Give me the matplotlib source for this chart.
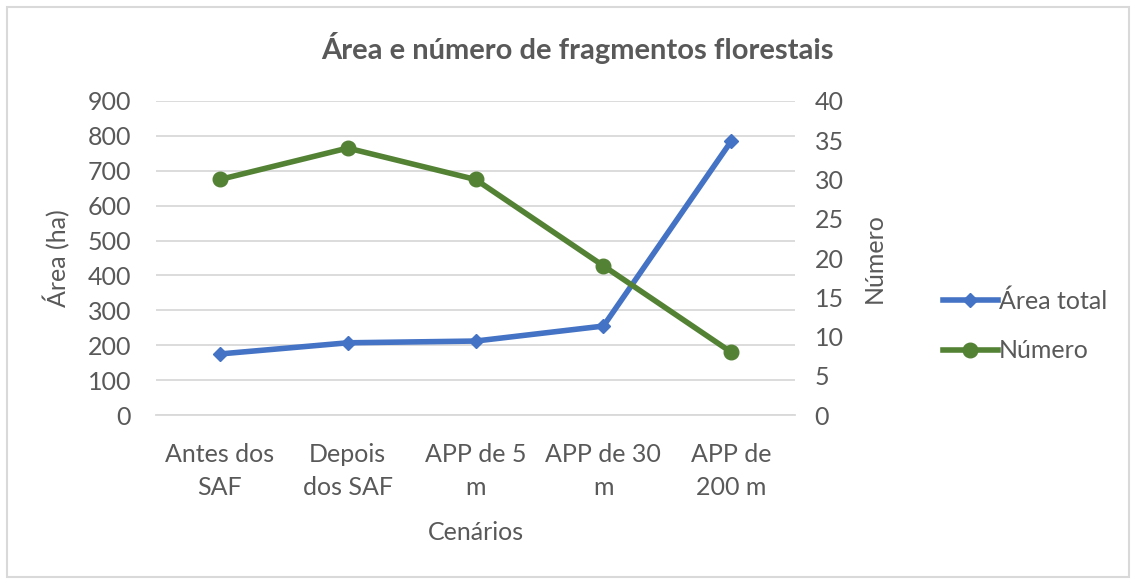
import matplotlib.pyplot as plt
from matplotlib.patches import Rectangle

plt.rcParams['font.family'] = ['Lato', 'DejaVu Sans']

# Data
cenarios = ['Antes dos\nSAF', 'Depois\ndos SAF', 'APP de 5\nm', 'APP de 30\nm', 'APP de\n200 m']
area_total = [175, 207, 212, 255, 785]
numero = [30, 34, 30, 19, 8]

grey = '#595959'
blue = '#4472C4'
green = '#548235'

fig = plt.figure(figsize=(11.36, 5.79), dpi=100)
ax1 = fig.add_axes([0.1373, 0.2832, 0.5627, 0.5424])
ax2 = ax1.twinx()

x = list(range(len(cenarios)))
l1, = ax1.plot(x, area_total, color=blue, linewidth=4, marker='D',
               markersize=7.5, label='Área total', zorder=3)
l2, = ax2.plot(x, numero, color=green, linewidth=4, marker='o',
               markersize=10.5, label='Número', zorder=3)

ax1.set_xlim(-0.5, 4.5)
ax1.set_ylim(0, 900)
ax1.set_yticks(range(0, 901, 100))
ax2.set_ylim(0, 40)
ax2.set_yticks(range(0, 41, 5))

ax1.set_xticks(x)
ax1.set_xticklabels(cenarios, linespacing=1.55)

ax1.grid(axis='y', color='#d9d9d9', linewidth=1.3)
ax1.set_axisbelow(True)
for ax in (ax1, ax2):
    for s in ax.spines.values():
        s.set_visible(False)
    ax.tick_params(length=0, labelsize=18, colors=grey)
ax1.spines['bottom'].set_visible(True)
ax1.spines['bottom'].set_color('#d9d9d9')
ax1.spines['bottom'].set_linewidth(1.3)
ax1.tick_params(axis='y', pad=18)
ax1.tick_params(axis='x', pad=20)
ax2.tick_params(axis='y', pad=14)

ax1.set_ylabel('Área (ha)', fontsize=18, color=grey, labelpad=12)
ax2.set_ylabel('Número', fontsize=18, color=grey, labelpad=14)
ax1.set_xlabel('Cenários', fontsize=18, color=grey, labelpad=16)

fig.text(0.508, 0.917, 'Área e número de fragmentos florestais', ha='center',
         va='center', fontsize=21, fontweight='bold', color=grey)

fig.legend(handles=[l1, l2], loc='center left', bbox_to_anchor=(0.81, 0.437),
           frameon=False, fontsize=18, labelcolor=grey, handlelength=2.2,
           handletextpad=0.05, labelspacing=1.05)

fig.patches.append(Rectangle((0.006, 0.004), 0.988, 0.984, transform=fig.transFigure,
                             fill=False, edgecolor='#d9d9d9', linewidth=1.5))

fig.savefig('out.png', dpi=100)
